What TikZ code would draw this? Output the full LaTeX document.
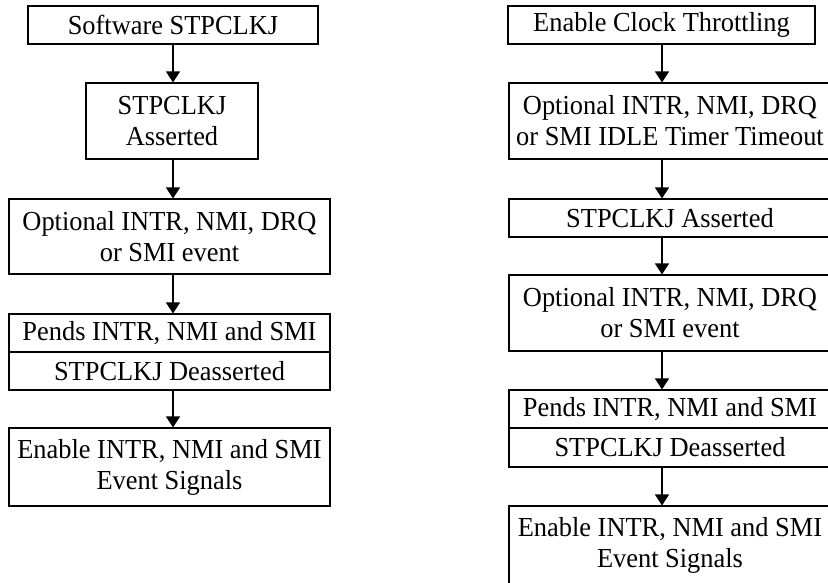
\documentclass[tikz,border=0pt]{standalone}
\usepackage{fontspec}
\setmainfont[FakeStretch=0.96]{Liberation Serif}
\usetikzlibrary{arrows.meta}
\begin{document}
\begin{tikzpicture}[x=1pt,y=-1pt,
 box/.style={draw, line width=1.1pt, inner sep=0pt, align=center, font=\fontsize{27.5}{31}\selectfont},
 arr/.style={line width=1.1pt, -{Triangle[length=11pt,width=14pt]}}]
\useasboundingbox (0,0) rectangle (828,582);
\clip (0,0) rectangle (828,582);
% left column
\node[box, minimum width=290pt, minimum height=38pt] (L1) at (173,25) {Software STPCLKJ};
\node[box, minimum width=172pt, minimum height=76pt] (L2) at (172,121) {STPCLKJ\\Asserted};
\node[box, minimum width=321pt, minimum height=75pt] (L3) at (169.5,236.5) {Optional INTR, NMI, DRQ\\or SMI event};
\node[box, minimum width=321pt, minimum height=38pt] (L4a) at (169.5,333) {Pends INTR, NMI and SMI};
\node[box, minimum width=321pt, minimum height=38pt] (L4b) at (169.5,371) {STPCLKJ Deasserted};
\node[box, minimum width=321pt, minimum height=78pt] (L5) at (169.5,467) {Enable INTR, NMI and SMI\\Event Signals};
\coordinate (LX) at (173,0);
\draw[arr] (L1.south -| LX) -- (L2.north -| LX);
\draw[arr] (L2.south -| LX) -- (L3.north -| LX);
\draw[arr] (L3.south -| LX) -- (L4a.north -| LX);
\draw[arr] (L4b.south -| LX) -- (L5.north -| LX);
% right column
\node[box, minimum width=307pt, minimum height=38pt] (R1) at (661.5,25) {Enable Clock Throttling};
\node[box, minimum width=322pt, minimum height=76pt] (R2) at (670,121) {Optional INTR, NMI, DRQ\\or SMI IDLE Timer Timeout};
\node[box, minimum width=322pt, minimum height=38pt] (R3) at (670,218) {STPCLKJ Asserted};
\node[box, minimum width=322pt, minimum height=76pt] (R4) at (670,313) {Optional INTR, NMI, DRQ\\or SMI event};
\node[box, minimum width=322pt, minimum height=38pt] (R5a) at (670,409) {Pends INTR, NMI and SMI};
\node[box, minimum width=322pt, minimum height=39pt] (R5b) at (670,447.5) {STPCLKJ Deasserted};
\node[box, minimum width=322pt, minimum height=78pt] (R6) at (670,545) {Enable INTR, NMI and SMI\\Event Signals};
\coordinate (RX) at (662,0);
\draw[arr] (R1.south -| RX) -- (R2.north -| RX);
\draw[arr] (R2.south -| RX) -- (R3.north -| RX);
\draw[arr] (R3.south -| RX) -- (R4.north -| RX);
\draw[arr] (R4.south -| RX) -- (R5a.north -| RX);
\draw[arr] (R5b.south -| RX) -- (R6.north -| RX);
\end{tikzpicture}
\end{document}
